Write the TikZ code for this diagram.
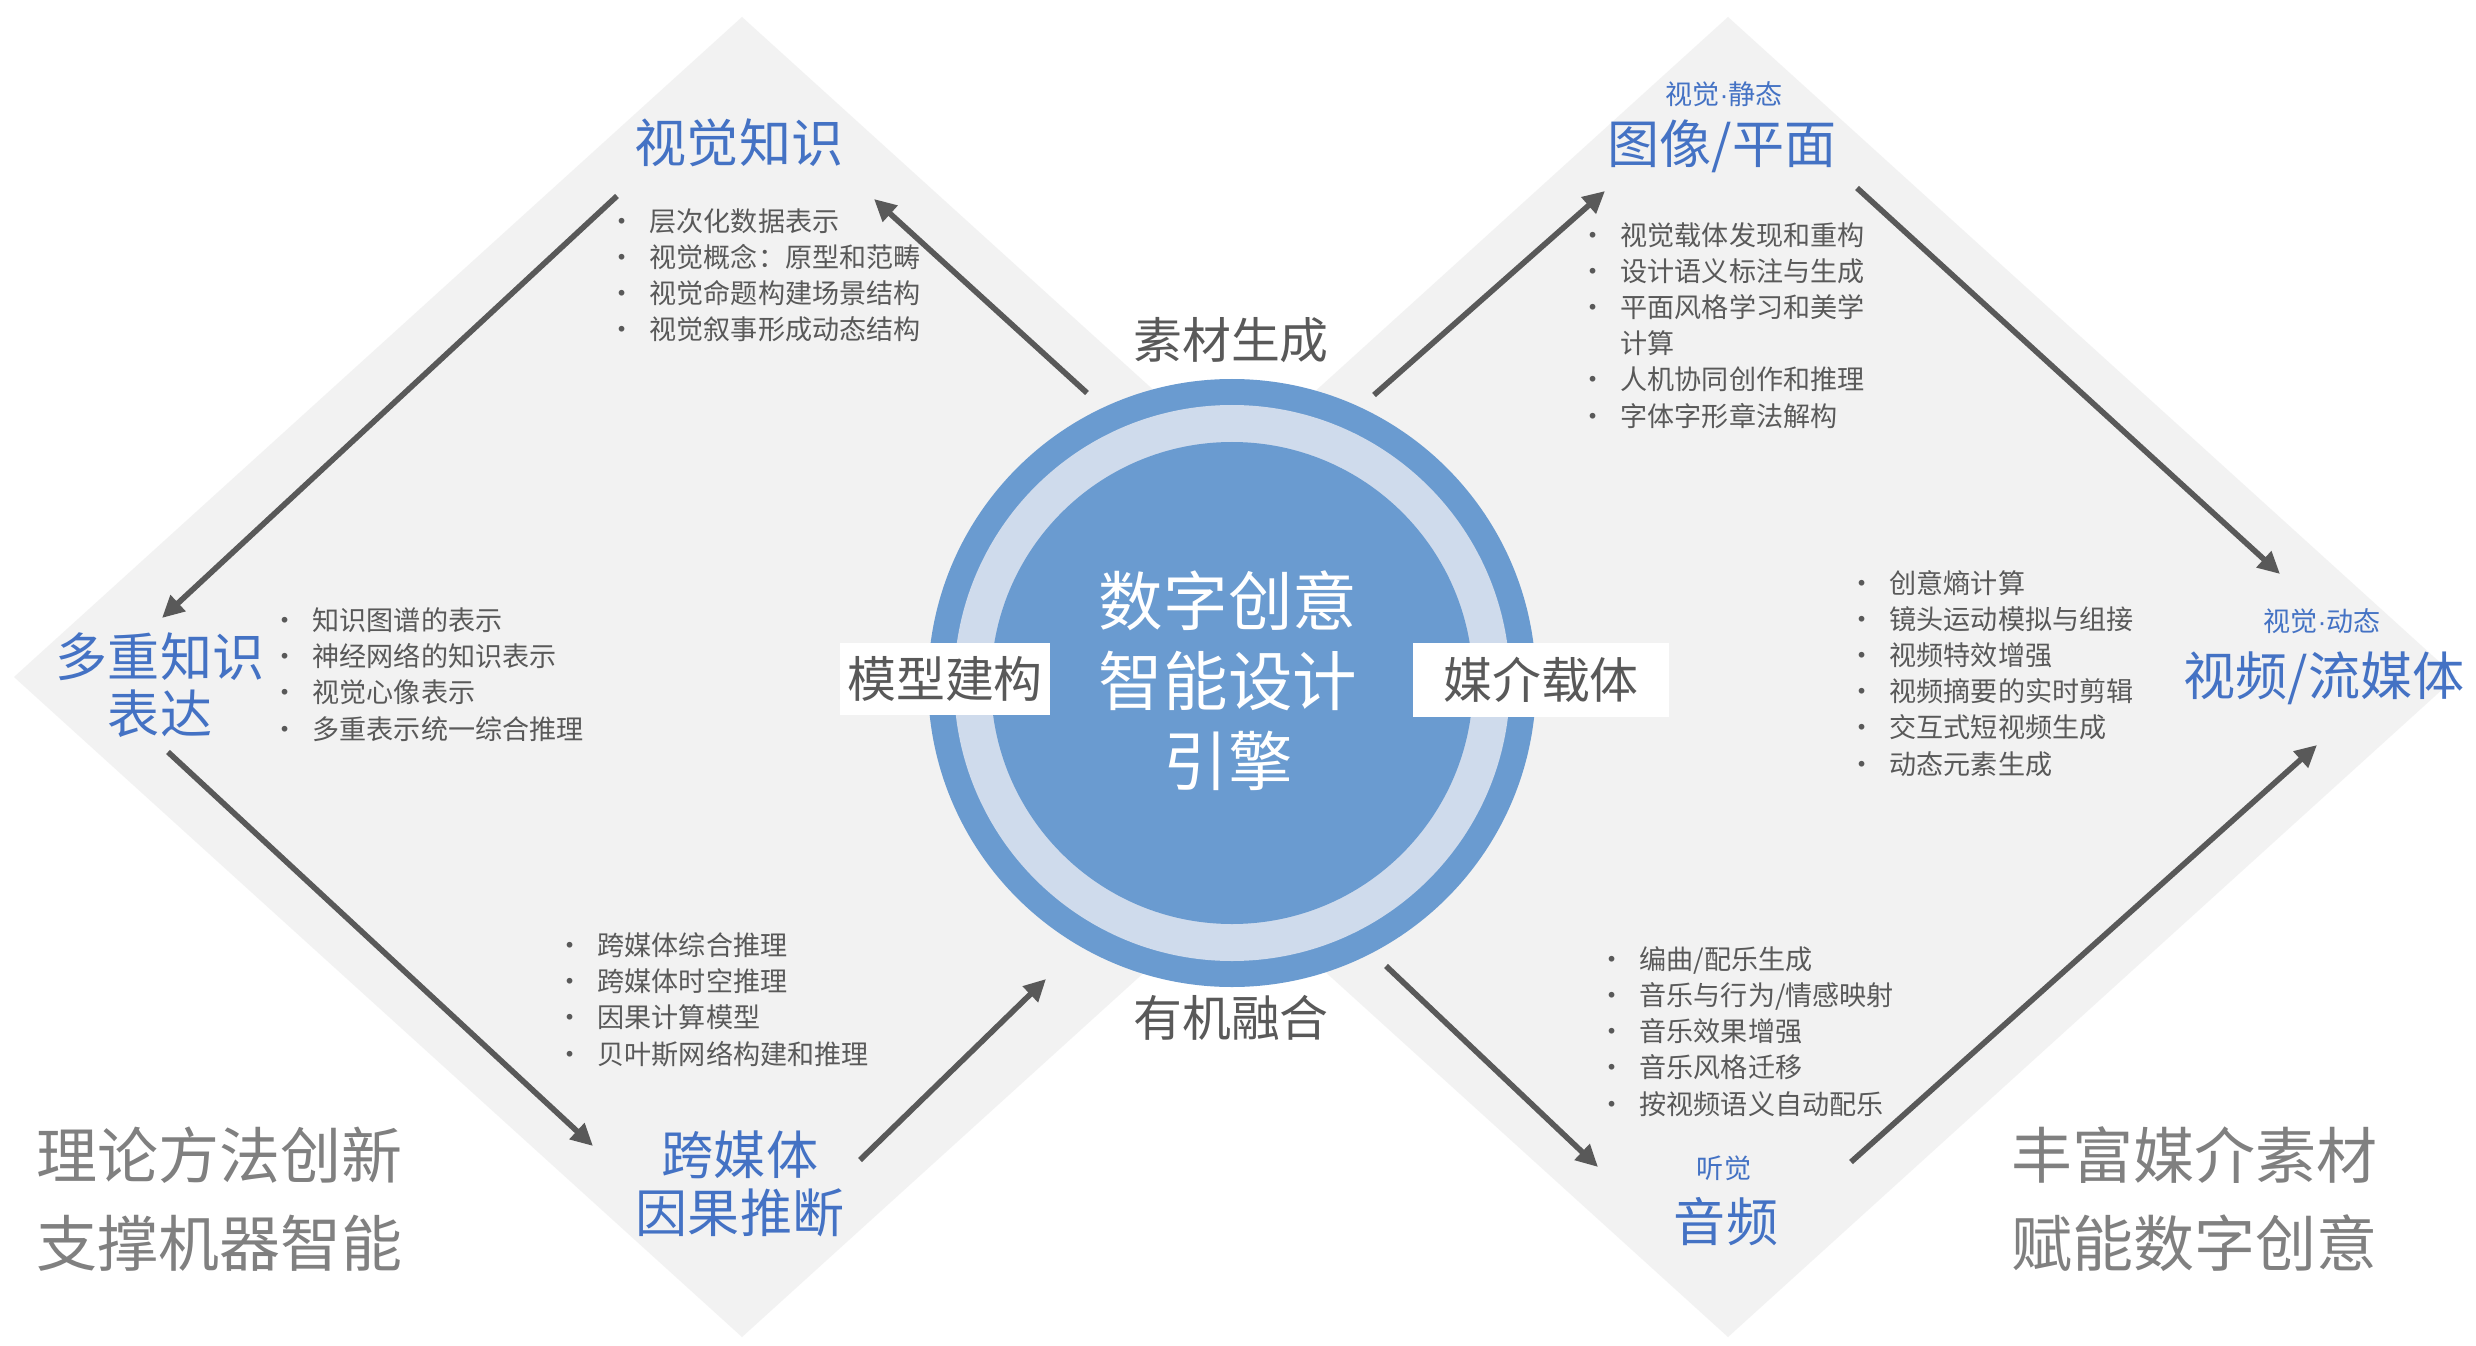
\documentclass[tikz,border=0pt]{standalone}
\usepackage{fontspec}
\setmainfont{Noto Sans CJK SC}
\newfontfamily\dotfont{Liberation Sans}
\usepackage{tikz}
\usetikzlibrary{arrows.meta,positioning}
\definecolor{diagray}{HTML}{F2F2F2}
\definecolor{headblue}{HTML}{4472C4}
\definecolor{ringblue}{HTML}{6A9BD0}
\definecolor{ringpale}{HTML}{CFDBEC}
\definecolor{flowgray}{HTML}{595959}
\definecolor{mottogray}{HTML}{808080}
\newcommand{\itm}{\llap{\makebox[0.56cm]{\textbullet}}}
\newcommand{\mdot}{{\dotfont ·}}

\begin{document}
\begin{tikzpicture}[x=0.01cm,y=-0.01cm,
    head/.style={font=\fontsize{14.8}{16.2}\selectfont,text=headblue,align=center,inner sep=0},
    subhead/.style={font=\fontsize{7.7}{9}\selectfont,text=headblue,inner sep=0},
    pointlist/.style={font=\fontsize{7.7}{10.24}\selectfont,text=flowgray,align=left,anchor=base west,inner sep=0},
    hublabel/.style={font=\fontsize{13.9}{16}\selectfont,text=flowgray,inner sep=0},
    motto/.style={font=\fontsize{17.35}{25}\selectfont,text=mottogray,align=left,anchor=west,inner sep=0},
    flow/.style={draw=flowgray,line width=1.6pt,-{Triangle[length=0.22cm,width=0.21cm]}}]
  % Engine diagram: two diamond panels around a ringed hub (units: 1 = 0.01 cm, y down)
  \def\dw{728}   % half width of a diamond
  \def\dh{660}   % half height of a diamond
  \def\dy{677}   % vertical middle of the diamonds
  \useasboundingbox (0,0) rectangle (2476,1346);
  \fill[white] (0,0) rectangle (2476,1346);
  % --- Diamond panels ---
  \fill[diagray] (742,\dy-\dh) -- (742+\dw,\dy) -- (742,\dy+\dh) -- (742-\dw,\dy) -- cycle;
  \fill[diagray] (1728,\dy-\dh) -- (1728+\dw,\dy) -- (1728,\dy+\dh) -- (1728-\dw,\dy) -- cycle;
  % --- Hub: three rings ---
  \coordinate (hub) at (1232,683);
  \fill[ringblue] (hub) circle[radius=304];
  \fill[ringpale] (hub) circle[radius=278];
  \fill[ringblue] (hub) circle[radius=241];
  \node[font=\fontsize{18.35}{22.76}\selectfont,text=white,align=center,inner sep=0]
    (engine) at (1228,681) {数字创意\\智能设计\\引擎};
  % --- Labels round the hub ---
  \node[hublabel] (gen) at (1231,340) {素材生成};
  \node[hublabel] (fuse) at (1231,1018) {有机融合};
  \node[hublabel,fill=white,minimum width=2.1cm,minimum height=0.72cm]
    (model) at (945,679) {模型建构};
  \node[hublabel,fill=white,minimum width=2.56cm,minimum height=0.74cm]
    (media) at (1541,680) {媒介载体};
  % --- Left panel: theory (lists sit on the baseline of their last line) ---
  \node[head] (vk) at (739,143) {视觉知识};
  \node[pointlist] (vklist) at (649,340)
    {\itm 层次化数据表示\\\itm 视觉概念：原型和范畴\\\itm 视觉命题构建场景结构\\\itm 视觉叙事形成动态结构};
  \node[head] (mk) at (160,685) {多重知识\\表达};
  \node[pointlist] (mklist) at (312,739)
    {\itm 知识图谱的表示\\\itm 神经网络的知识表示\\\itm 视觉心像表示\\\itm 多重表示统一综合推理};
  \node[head,font=\fontsize{14.8}{16.5}\selectfont] (cm) at (740,1184) {跨媒体\\因果推断};
  \node[pointlist] (cmlist) at (597,1064)
    {\itm 跨媒体综合推理\\\itm 跨媒体时空推理\\\itm 因果计算模型\\\itm 贝叶斯网络构建和推理};
  \node[motto] (theory) at (36,1199) {理论方法创新\\支撑机器智能};
  % --- Right panel: media ---
  \node[subhead] (imtag) at (1724,94) {视觉\mdot 静态};
  \node[head] (im) at (1722,146) {图像/平面};
  \node[pointlist] (imlist) at (1620,426)
    {\itm 视觉载体发现和重构\\\itm 设计语义标注与生成\\\itm 平面风格学习和美学\\计算\\\itm 人机协同创作和推理\\\itm 字体字形章法解构};
  \node[subhead] (vdtag) at (2322,621) {视觉\mdot 动态};
  \node[head] (vd) at (2324,678) {视频/流媒体};
  \node[pointlist] (vdlist) at (1889,774)
    {\itm 创意熵计算\\\itm 镜头运动模拟与组接\\\itm 视频特效增强\\\itm 视频摘要的实时剪辑\\\itm 交互式短视频生成\\\itm 动态元素生成};
  \node[subhead] (autag) at (1724,1168) {听觉};
  \node[head] (au) at (1726,1222) {音频};
  \node[pointlist] (aulist) at (1639,1114)
    {\itm 编曲/配乐生成\\\itm 音乐与行为/情感映射\\\itm 音乐效果增强\\\itm 音乐风格迁移\\\itm 按视频语义自动配乐};
  \node[motto] (enable) at (2011,1199) {丰富媒介素材\\赋能数字创意};
  % --- Arrow ends ---
  \coordinate (gen-l) at (1087,393);   \coordinate (vk-in) at (874,199);
  \coordinate (vk-out) at (617,196);   \coordinate (mk-in) at (162,618);
  \coordinate (mk-out) at (168,752);   \coordinate (cm-in) at (593,1146);
  \coordinate (cm-out) at (860,1160);  \coordinate (fuse-l) at (1046,979);
  \coordinate (gen-r) at (1374,395);   \coordinate (im-in) at (1605,191);
  \coordinate (im-out) at (1857,188);  \coordinate (vd-in) at (2280,574);
  \coordinate (fuse-r) at (1386,966);  \coordinate (au-in) at (1598,1167);
  \coordinate (au-out) at (1851,1162); \coordinate (vd-back) at (2317,745);
  % --- Arrows, left panel ---
  \draw[flow] (gen-l) -- (vk-in);
  \draw[flow] (vk-out) -- (mk-in);
  \draw[flow] (mk-out) -- (cm-in);
  \draw[flow] (cm-out) -- (fuse-l);
  % --- Arrows, right panel ---
  \draw[flow] (gen-r) -- (im-in);
  \draw[flow] (im-out) -- (vd-in);
  \draw[flow] (fuse-r) -- (au-in);
  \draw[flow] (au-out) -- (vd-back);
\end{tikzpicture}
\end{document}
